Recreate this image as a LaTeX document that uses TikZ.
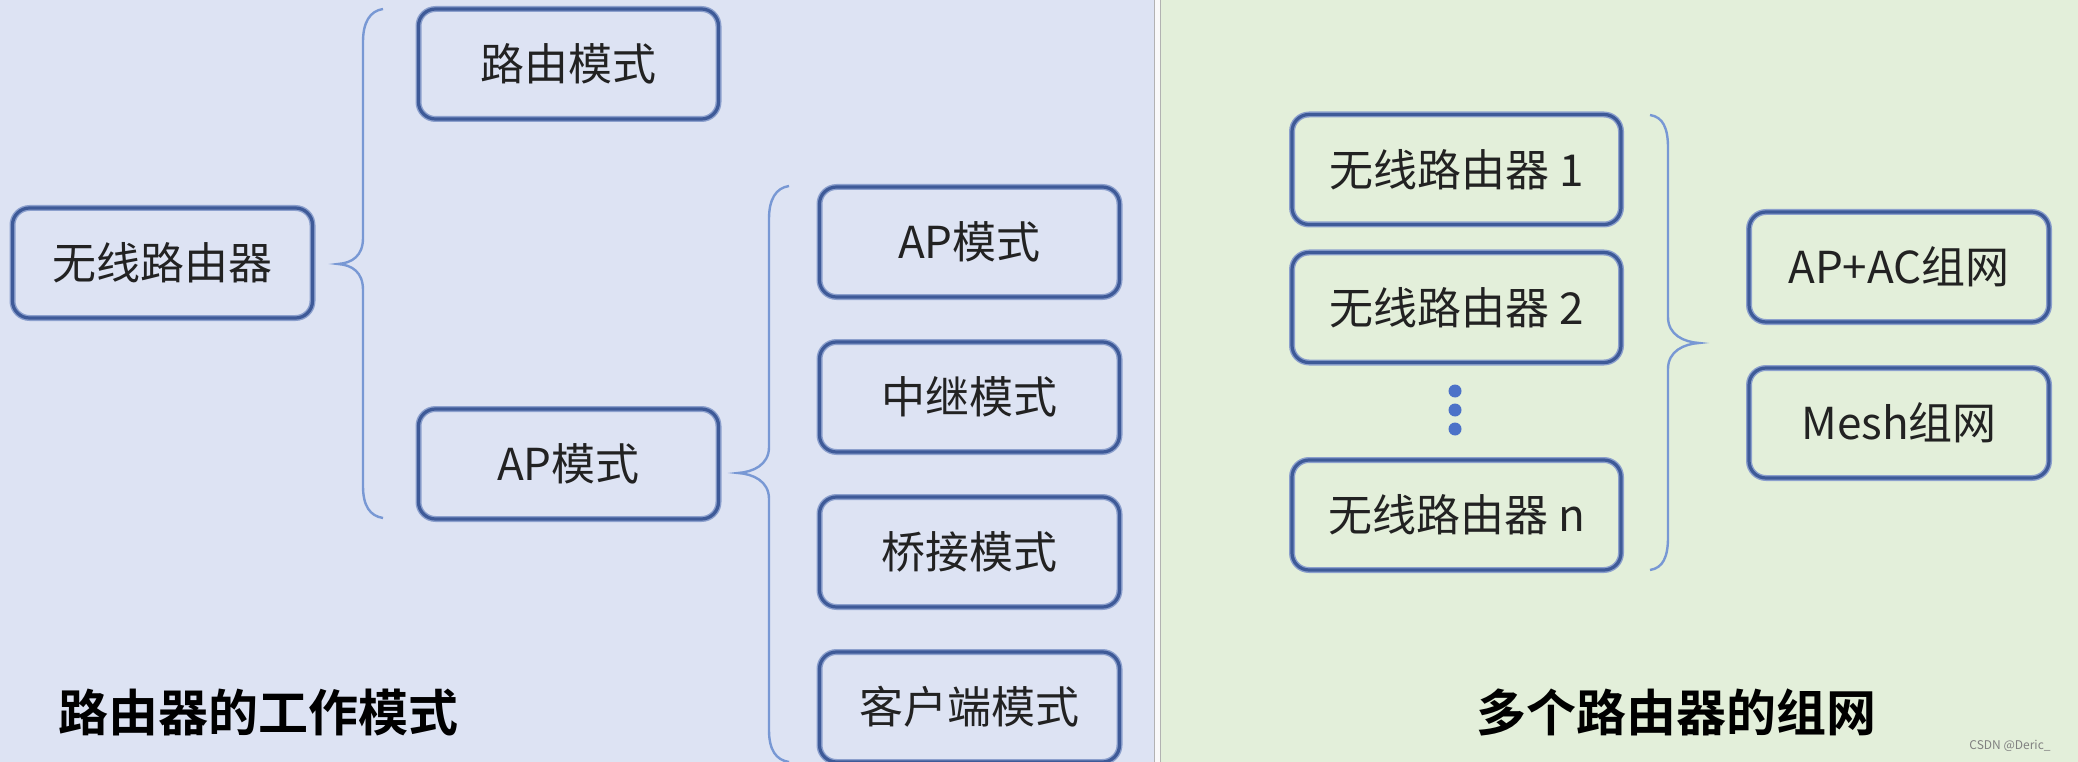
\documentclass[tikz,border=0pt]{standalone}
\usepackage{fontspec}
\setmainfont{Noto Sans CJK SC}[BoldFont={Noto Sans CJK SC Bold}]
\definecolor{leftbg}{RGB}{221,227,243}
\definecolor{rightbg}{RGB}{227,239,218}
\definecolor{boxc}{RGB}{62,90,152}
\definecolor{boxhalo}{RGB}{140,160,205}
\definecolor{bracec}{RGB}{120,152,212}
\definecolor{dotc}{RGB}{76,114,200}
\definecolor{txt}{RGB}{34,34,34}
\tikzset{
  modebox/.style={draw=boxc, line width=3.2pt, rounded corners=17pt,
    minimum width=300pt, minimum height=110pt, inner sep=0pt,
    text=txt, font=\fontsize{44}{48}\selectfont,
    preaction={draw=boxhalo, line width=6pt}},
  widebox/.style={modebox, minimum width=329pt},
  bracepath/.style={draw=bracec, line width=2.4pt},
  titletext/.style={font=\fontsize{50}{54}\selectfont\bfseries, text=black},
}
\begin{document}
\begin{tikzpicture}[x=1pt,y=-1pt]
\useasboundingbox (0,0) rectangle (2078,762);
\fill[leftbg] (0,0) rectangle (1154,762);
\fill[rightbg] (1160,0) rectangle (2078,762);
\fill[white!95!gray] (1154,0) rectangle (1160,762);
\draw[gray!60, line width=1pt] (1154,0) -- (1154,762);
\draw[gray!60, line width=1pt] (1160,0) -- (1160,762);

% left part
\node[modebox] (wr) at (162.5,263) {无线路由器};
\node[modebox] (ly) at (568.5,64) {路由模式};
\node[modebox] (apm) at (568.5,464) {AP模式};
\node[modebox] (ap) at (969.5,242) {AP模式};
\node[modebox] (zj) at (969.5,397) {中继模式};
\node[modebox] (qj) at (969.5,552) {桥接模式};
\node[modebox] (kh) at (969.5,707) {客户端模式};

% brace 1
\draw[bracepath] (383,9) .. controls (370,11) and (363,22) .. (363,42)
  -- (363,238) .. controls (363,256) and (352,263) .. (338,264)
  .. controls (352,265) and (363,272) .. (363,290)
  -- (363,486) .. controls (363,506) and (370,516) .. (383,518);
% brace 2
\draw[bracepath] (789,186) .. controls (776,188) and (769,199) .. (769,219)
  -- (769,447) .. controls (769,465) and (753,472) .. (738,473)
  .. controls (753,474) and (769,481) .. (769,499)
  -- (769,730) .. controls (769,750) and (776,760) .. (789,762);

\node[titletext] (t1) at (258,712) {路由器的工作模式};

% right part
\node[widebox] (r1) at (1456.5,169.5) {无线路由器 1};
\node[widebox] (r2) at (1456.5,307.5) {无线路由器 2};
\node[widebox] (rn) at (1456.5,515) {无线路由器 n};
\fill[dotc] (1455,391) circle (6.5pt);
\fill[dotc] (1455,410) circle (6.5pt);
\fill[dotc] (1455,429) circle (6.5pt);

\draw[bracepath] (1650,115) .. controls (1663,117) and (1668,128) .. (1668,148)
  -- (1668,317) .. controls (1668,335) and (1684,342) .. (1699,343)
  .. controls (1684,344) and (1668,351) .. (1668,369)
  -- (1668,537) .. controls (1668,557) and (1663,568) .. (1650,570);

\node[modebox] (apac) at (1899,267) {AP+AC组网};
\node[modebox] (mesh) at (1899,423) {Mesh组网};

\node[titletext] (t2) at (1676,712) {多个路由器的组网};

\node[font=\fontsize{12}{14}\selectfont, text=gray] (wm) at (2010,746) {CSDN @Deric\_};
\end{tikzpicture}
\end{document}
